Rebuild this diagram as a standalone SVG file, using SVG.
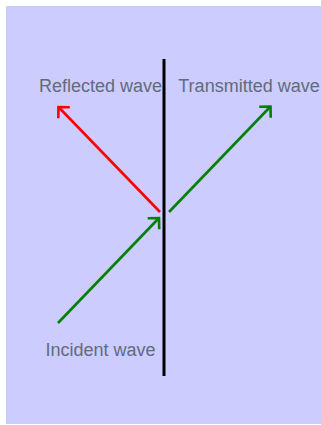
<svg xmlns="http://www.w3.org/2000/svg" width="321" height="425" viewBox="0 0 321 425">
<style>
.lbl{font-family:"Liberation Sans",Arial,sans-serif;font-size:18px;fill:#626b7b;text-anchor:middle}
.wave{fill:none;stroke-width:2.6}
</style>
<defs>
<marker id="ag" markerUnits="userSpaceOnUse" markerWidth="20" markerHeight="20" refX="0" refY="0" viewBox="-10 -10 20 20" orient="auto" overflow="visible">
<path d="M-8,-8 L0,0 L-8,8" fill="none" stroke="#008000" stroke-width="2.6"/>
</marker>
<marker id="ar" markerUnits="userSpaceOnUse" markerWidth="20" markerHeight="20" refX="0" refY="0" viewBox="-10 -10 20 20" orient="auto" overflow="visible">
<path d="M-8,-8 L0,0 L-8,8" fill="none" stroke="#ff0000" stroke-width="2.6"/>
</marker>
</defs>
<rect x="6" y="6" width="315" height="418" fill="#ccccff"/>
<g id="interface">
<line x1="164" y1="59" x2="164" y2="376" stroke="#000" stroke-width="3"/>
</g>
<g id="connectors">
<line class="wave" x1="58" y1="323" x2="159" y2="218" stroke="#008000" marker-end="url(#ag)"/>
<line class="wave" x1="160" y1="212" x2="58.5" y2="107" stroke="#ff0000" marker-end="url(#ar)"/>
<line class="wave" x1="169" y1="212" x2="270.5" y2="106.5" stroke="#008000" marker-end="url(#ag)"/>
</g>
<g id="reflected"><text class="lbl" x="100.5" y="92">Reflected wave</text></g>
<g id="transmitted"><text class="lbl" x="249" y="92">Transmitted wave</text></g>
<g id="incident"><text class="lbl" x="100.5" y="356">Incident wave</text></g>
</svg>
